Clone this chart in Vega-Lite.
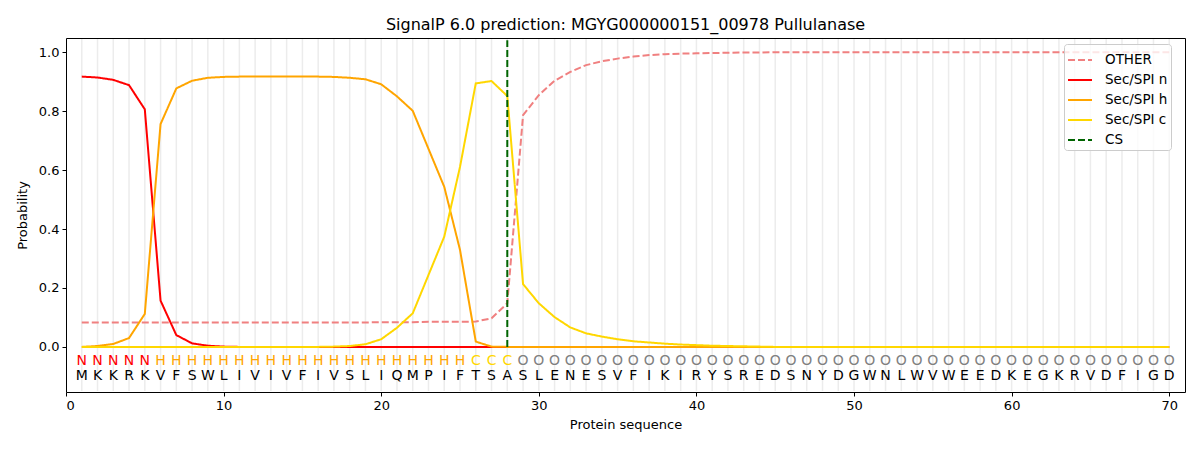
{
  "$schema": "https://vega.github.io/schema/vega-lite/v6.json",
  "autosize": "none",
  "width": 1119,
  "height": 354,
  "padding": {"left": 66, "top": 38, "right": 15, "bottom": 58},
  "background": "white",
  "config": {
    "font": "DejaVu Sans",
    "view": {"stroke": "black", "strokeWidth": 1},
    "axis": {
      "domain": false, "grid": false, "tickColor": "black", "tickSize": 4,
      "labelFont": "DejaVu Sans", "labelFontSize": 13, "labelColor": "black", "labelPadding": 3,
      "titleFont": "DejaVu Sans", "titleFontSize": 13, "titleFontWeight": "normal", "titleColor": "black"
    },
    "title": {"font": "DejaVu Sans", "fontSize": 16, "fontWeight": "normal", "color": "black"}
  },
  "title": {"text": "SignalP 6.0 prediction: MGYG000000151_00978 Pullulanase", "offset": 5},
  "data": {
    "values": [
      {"pos": 1, "aa": "M", "lab": "N", "OTHER": 0.083, "Sec/SPI n": 0.917, "Sec/SPI h": 0.000, "Sec/SPI c": 0.000},
      {"pos": 2, "aa": "K", "lab": "N", "OTHER": 0.083, "Sec/SPI n": 0.914, "Sec/SPI h": 0.003, "Sec/SPI c": 0.000},
      {"pos": 3, "aa": "K", "lab": "N", "OTHER": 0.083, "Sec/SPI n": 0.906, "Sec/SPI h": 0.010, "Sec/SPI c": 0.000},
      {"pos": 4, "aa": "R", "lab": "N", "OTHER": 0.083, "Sec/SPI n": 0.888, "Sec/SPI h": 0.030, "Sec/SPI c": 0.000},
      {"pos": 5, "aa": "K", "lab": "N", "OTHER": 0.083, "Sec/SPI n": 0.806, "Sec/SPI h": 0.112, "Sec/SPI c": 0.000},
      {"pos": 6, "aa": "V", "lab": "H", "OTHER": 0.083, "Sec/SPI n": 0.157, "Sec/SPI h": 0.756, "Sec/SPI c": 0.000},
      {"pos": 7, "aa": "F", "lab": "H", "OTHER": 0.083, "Sec/SPI n": 0.040, "Sec/SPI h": 0.877, "Sec/SPI c": 0.000},
      {"pos": 8, "aa": "S", "lab": "H", "OTHER": 0.083, "Sec/SPI n": 0.012, "Sec/SPI h": 0.903, "Sec/SPI c": 0.000},
      {"pos": 9, "aa": "W", "lab": "H", "OTHER": 0.083, "Sec/SPI n": 0.004, "Sec/SPI h": 0.913, "Sec/SPI c": 0.000},
      {"pos": 10, "aa": "L", "lab": "H", "OTHER": 0.083, "Sec/SPI n": 0.001, "Sec/SPI h": 0.916, "Sec/SPI c": 0.000},
      {"pos": 11, "aa": "I", "lab": "H", "OTHER": 0.083, "Sec/SPI n": 0.000, "Sec/SPI h": 0.917, "Sec/SPI c": 0.000},
      {"pos": 12, "aa": "V", "lab": "H", "OTHER": 0.083, "Sec/SPI n": 0.000, "Sec/SPI h": 0.917, "Sec/SPI c": 0.000},
      {"pos": 13, "aa": "I", "lab": "H", "OTHER": 0.083, "Sec/SPI n": 0.000, "Sec/SPI h": 0.917, "Sec/SPI c": 0.000},
      {"pos": 14, "aa": "V", "lab": "H", "OTHER": 0.083, "Sec/SPI n": 0.000, "Sec/SPI h": 0.917, "Sec/SPI c": 0.000},
      {"pos": 15, "aa": "F", "lab": "H", "OTHER": 0.083, "Sec/SPI n": 0.000, "Sec/SPI h": 0.917, "Sec/SPI c": 0.000},
      {"pos": 16, "aa": "I", "lab": "H", "OTHER": 0.083, "Sec/SPI n": 0.000, "Sec/SPI h": 0.917, "Sec/SPI c": 0.000},
      {"pos": 17, "aa": "V", "lab": "H", "OTHER": 0.083, "Sec/SPI n": 0.000, "Sec/SPI h": 0.916, "Sec/SPI c": 0.001},
      {"pos": 18, "aa": "S", "lab": "H", "OTHER": 0.083, "Sec/SPI n": 0.000, "Sec/SPI h": 0.913, "Sec/SPI c": 0.003},
      {"pos": 19, "aa": "L", "lab": "H", "OTHER": 0.083, "Sec/SPI n": 0.000, "Sec/SPI h": 0.908, "Sec/SPI c": 0.009},
      {"pos": 20, "aa": "I", "lab": "H", "OTHER": 0.084, "Sec/SPI n": 0.000, "Sec/SPI h": 0.891, "Sec/SPI c": 0.026},
      {"pos": 21, "aa": "Q", "lab": "H", "OTHER": 0.084, "Sec/SPI n": 0.000, "Sec/SPI h": 0.850, "Sec/SPI c": 0.065},
      {"pos": 22, "aa": "M", "lab": "H", "OTHER": 0.084, "Sec/SPI n": 0.000, "Sec/SPI h": 0.801, "Sec/SPI c": 0.114},
      {"pos": 23, "aa": "P", "lab": "H", "OTHER": 0.085, "Sec/SPI n": 0.000, "Sec/SPI h": 0.672, "Sec/SPI c": 0.244},
      {"pos": 24, "aa": "I", "lab": "H", "OTHER": 0.085, "Sec/SPI n": 0.000, "Sec/SPI h": 0.543, "Sec/SPI c": 0.374},
      {"pos": 25, "aa": "F", "lab": "H", "OTHER": 0.085, "Sec/SPI n": 0.000, "Sec/SPI h": 0.329, "Sec/SPI c": 0.611},
      {"pos": 26, "aa": "T", "lab": "C", "OTHER": 0.086, "Sec/SPI n": 0.000, "Sec/SPI h": 0.018, "Sec/SPI c": 0.894},
      {"pos": 27, "aa": "S", "lab": "C", "OTHER": 0.097, "Sec/SPI n": 0.000, "Sec/SPI h": 0.001, "Sec/SPI c": 0.902},
      {"pos": 28, "aa": "A", "lab": "C", "OTHER": 0.148, "Sec/SPI n": 0.000, "Sec/SPI h": 0.000, "Sec/SPI c": 0.851},
      {"pos": 29, "aa": "S", "lab": "O", "OTHER": 0.786, "Sec/SPI n": 0.000, "Sec/SPI h": 0.000, "Sec/SPI c": 0.213},
      {"pos": 30, "aa": "L", "lab": "O", "OTHER": 0.854, "Sec/SPI n": 0.000, "Sec/SPI h": 0.000, "Sec/SPI c": 0.148},
      {"pos": 31, "aa": "E", "lab": "O", "OTHER": 0.903, "Sec/SPI n": 0.000, "Sec/SPI h": 0.000, "Sec/SPI c": 0.101},
      {"pos": 32, "aa": "N", "lab": "O", "OTHER": 0.933, "Sec/SPI n": 0.000, "Sec/SPI h": 0.000, "Sec/SPI c": 0.066},
      {"pos": 33, "aa": "E", "lab": "O", "OTHER": 0.956, "Sec/SPI n": 0.000, "Sec/SPI h": 0.000, "Sec/SPI c": 0.046},
      {"pos": 34, "aa": "S", "lab": "O", "OTHER": 0.969, "Sec/SPI n": 0.000, "Sec/SPI h": 0.000, "Sec/SPI c": 0.035},
      {"pos": 35, "aa": "V", "lab": "O", "OTHER": 0.978, "Sec/SPI n": 0.000, "Sec/SPI h": 0.000, "Sec/SPI c": 0.026},
      {"pos": 36, "aa": "F", "lab": "O", "OTHER": 0.985, "Sec/SPI n": 0.000, "Sec/SPI h": 0.000, "Sec/SPI c": 0.019},
      {"pos": 37, "aa": "I", "lab": "O", "OTHER": 0.990, "Sec/SPI n": 0.000, "Sec/SPI h": 0.000, "Sec/SPI c": 0.015},
      {"pos": 38, "aa": "K", "lab": "O", "OTHER": 0.993, "Sec/SPI n": 0.000, "Sec/SPI h": 0.000, "Sec/SPI c": 0.011},
      {"pos": 39, "aa": "I", "lab": "O", "OTHER": 0.995, "Sec/SPI n": 0.000, "Sec/SPI h": 0.000, "Sec/SPI c": 0.008},
      {"pos": 40, "aa": "R", "lab": "O", "OTHER": 0.996, "Sec/SPI n": 0.000, "Sec/SPI h": 0.000, "Sec/SPI c": 0.006},
      {"pos": 41, "aa": "Y", "lab": "O", "OTHER": 0.997, "Sec/SPI n": 0.000, "Sec/SPI h": 0.000, "Sec/SPI c": 0.004},
      {"pos": 42, "aa": "S", "lab": "O", "OTHER": 0.998, "Sec/SPI n": 0.000, "Sec/SPI h": 0.000, "Sec/SPI c": 0.003},
      {"pos": 43, "aa": "R", "lab": "O", "OTHER": 0.999, "Sec/SPI n": 0.000, "Sec/SPI h": 0.000, "Sec/SPI c": 0.002},
      {"pos": 44, "aa": "E", "lab": "O", "OTHER": 0.999, "Sec/SPI n": 0.000, "Sec/SPI h": 0.000, "Sec/SPI c": 0.001},
      {"pos": 45, "aa": "D", "lab": "O", "OTHER": 1.000, "Sec/SPI n": 0.000, "Sec/SPI h": 0.000, "Sec/SPI c": 0.000},
      {"pos": 46, "aa": "S", "lab": "O", "OTHER": 1.000, "Sec/SPI n": 0.000, "Sec/SPI h": 0.000, "Sec/SPI c": 0.000},
      {"pos": 47, "aa": "N", "lab": "O", "OTHER": 1.000, "Sec/SPI n": 0.000, "Sec/SPI h": 0.000, "Sec/SPI c": 0.000},
      {"pos": 48, "aa": "Y", "lab": "O", "OTHER": 1.000, "Sec/SPI n": 0.000, "Sec/SPI h": 0.000, "Sec/SPI c": 0.000},
      {"pos": 49, "aa": "D", "lab": "O", "OTHER": 1.000, "Sec/SPI n": 0.000, "Sec/SPI h": 0.000, "Sec/SPI c": 0.000},
      {"pos": 50, "aa": "G", "lab": "O", "OTHER": 1.000, "Sec/SPI n": 0.000, "Sec/SPI h": 0.000, "Sec/SPI c": 0.000},
      {"pos": 51, "aa": "W", "lab": "O", "OTHER": 1.000, "Sec/SPI n": 0.000, "Sec/SPI h": 0.000, "Sec/SPI c": 0.000},
      {"pos": 52, "aa": "N", "lab": "O", "OTHER": 1.000, "Sec/SPI n": 0.000, "Sec/SPI h": 0.000, "Sec/SPI c": 0.000},
      {"pos": 53, "aa": "L", "lab": "O", "OTHER": 1.000, "Sec/SPI n": 0.000, "Sec/SPI h": 0.000, "Sec/SPI c": 0.000},
      {"pos": 54, "aa": "W", "lab": "O", "OTHER": 1.000, "Sec/SPI n": 0.000, "Sec/SPI h": 0.000, "Sec/SPI c": 0.000},
      {"pos": 55, "aa": "V", "lab": "O", "OTHER": 1.000, "Sec/SPI n": 0.000, "Sec/SPI h": 0.000, "Sec/SPI c": 0.000},
      {"pos": 56, "aa": "W", "lab": "O", "OTHER": 1.000, "Sec/SPI n": 0.000, "Sec/SPI h": 0.000, "Sec/SPI c": 0.000},
      {"pos": 57, "aa": "E", "lab": "O", "OTHER": 1.000, "Sec/SPI n": 0.000, "Sec/SPI h": 0.000, "Sec/SPI c": 0.000},
      {"pos": 58, "aa": "E", "lab": "O", "OTHER": 1.000, "Sec/SPI n": 0.000, "Sec/SPI h": 0.000, "Sec/SPI c": 0.000},
      {"pos": 59, "aa": "D", "lab": "O", "OTHER": 1.000, "Sec/SPI n": 0.000, "Sec/SPI h": 0.000, "Sec/SPI c": 0.000},
      {"pos": 60, "aa": "K", "lab": "O", "OTHER": 1.000, "Sec/SPI n": 0.000, "Sec/SPI h": 0.000, "Sec/SPI c": 0.000},
      {"pos": 61, "aa": "E", "lab": "O", "OTHER": 1.000, "Sec/SPI n": 0.000, "Sec/SPI h": 0.000, "Sec/SPI c": 0.000},
      {"pos": 62, "aa": "G", "lab": "O", "OTHER": 1.000, "Sec/SPI n": 0.000, "Sec/SPI h": 0.000, "Sec/SPI c": 0.000},
      {"pos": 63, "aa": "K", "lab": "O", "OTHER": 1.000, "Sec/SPI n": 0.000, "Sec/SPI h": 0.000, "Sec/SPI c": 0.000},
      {"pos": 64, "aa": "R", "lab": "O", "OTHER": 1.000, "Sec/SPI n": 0.000, "Sec/SPI h": 0.000, "Sec/SPI c": 0.000},
      {"pos": 65, "aa": "V", "lab": "O", "OTHER": 1.000, "Sec/SPI n": 0.000, "Sec/SPI h": 0.000, "Sec/SPI c": 0.000},
      {"pos": 66, "aa": "D", "lab": "O", "OTHER": 1.000, "Sec/SPI n": 0.000, "Sec/SPI h": 0.000, "Sec/SPI c": 0.000},
      {"pos": 67, "aa": "F", "lab": "O", "OTHER": 1.000, "Sec/SPI n": 0.000, "Sec/SPI h": 0.000, "Sec/SPI c": 0.000},
      {"pos": 68, "aa": "I", "lab": "O", "OTHER": 1.000, "Sec/SPI n": 0.000, "Sec/SPI h": 0.000, "Sec/SPI c": 0.000},
      {"pos": 69, "aa": "G", "lab": "O", "OTHER": 1.000, "Sec/SPI n": 0.000, "Sec/SPI h": 0.000, "Sec/SPI c": 0.000},
      {"pos": 70, "aa": "D", "lab": "O", "OTHER": 1.000, "Sec/SPI n": 0.000, "Sec/SPI h": 0.000, "Sec/SPI c": 0.000}
    ]
  },
  "encoding": {
    "x": {
      "field": "pos", "type": "quantitative", "title": "Protein sequence",
      "scale": {"domain": [0, 71], "nice": false, "zero": false},
      "axis": {"values": [0, 10, 20, 30, 40, 50, 60, 70], "format": "d", "titlePadding": 6}
    }
  },
  "layer": [
    {
      "mark": {"type": "rule", "color": "#ececec", "strokeWidth": 1.5},
      "encoding": {
        "y": {"datum": -0.15, "type": "quantitative"},
        "y2": {"datum": 1.045}
      }
    },
    {
      "layer": [
        {
          "transform": [
            {"fold": ["OTHER", "Sec/SPI n", "Sec/SPI h", "Sec/SPI c"], "as": ["series", "prob"]}
          ],
          "mark": {"type": "line", "strokeWidth": 2},
          "encoding": {
            "y": {
              "field": "prob", "type": "quantitative", "title": "Probability",
              "scale": {"domain": [-0.153, 1.048], "nice": false, "zero": false},
              "axis": {"values": [0, 0.2, 0.4, 0.6, 0.8, 1.0], "format": ".1f", "titlePadding": 9}
            },
            "color": {
              "field": "series", "type": "nominal", "title": null,
              "scale": {
                "domain": ["OTHER", "Sec/SPI n", "Sec/SPI h", "Sec/SPI c", "CS"],
                "range": ["#f08080", "#ff0000", "#ffa500", "#ffd700", "#006400"]
              },
              "legend": {
                "orient": "none", "legendX": 998, "legendY": 6,
                "symbolType": "stroke", "symbolSize": 576, "symbolStrokeWidth": 2,
                "labelFontSize": 13.5, "labelFont": "DejaVu Sans", "labelColor": "black",
                "labelOffset": 12, "rowPadding": -2, "fillColor": "rgba(255,255,255,0.8)", "strokeColor": "#cccccc",
                "padding": 3, "cornerRadius": 3
              }
            },
            "strokeDash": {
              "field": "series", "type": "nominal", "title": null,
              "scale": {
                "domain": ["OTHER", "Sec/SPI n", "Sec/SPI h", "Sec/SPI c", "CS"],
                "range": [[7, 3], [1, 0], [1, 0], [1, 0], [7, 3]]
              }
            }
          }
        },
        {
          "data": {"values": [{"pos": 28, "series": "CS", "lo": 0, "hi": 1.04}]},
          "mark": {"type": "rule", "strokeWidth": 2},
          "encoding": {
            "y": {"field": "lo", "type": "quantitative"},
            "y2": {"field": "hi"},
            "color": {"field": "series", "type": "nominal", "title": null},
            "strokeDash": {"field": "series", "type": "nominal", "title": null}
          }
        }
      ]
    },
    {
      "mark": {"type": "text", "fontSize": 14, "font": "DejaVu Sans"},
      "encoding": {
        "y": {"datum": -0.047},
        "text": {"field": "lab"},
        "fill": {
          "field": "lab", "type": "nominal", "legend": null,
          "scale": {"domain": ["N", "H", "C", "O"], "range": ["#ff0000", "#ffa500", "#ffd700", "#808080"]}
        }
      }
    },
    {
      "mark": {"type": "text", "fontSize": 14, "font": "DejaVu Sans", "color": "black"},
      "encoding": {
        "y": {"datum": -0.1},
        "text": {"field": "aa"}
      }
    }
  ]
}
